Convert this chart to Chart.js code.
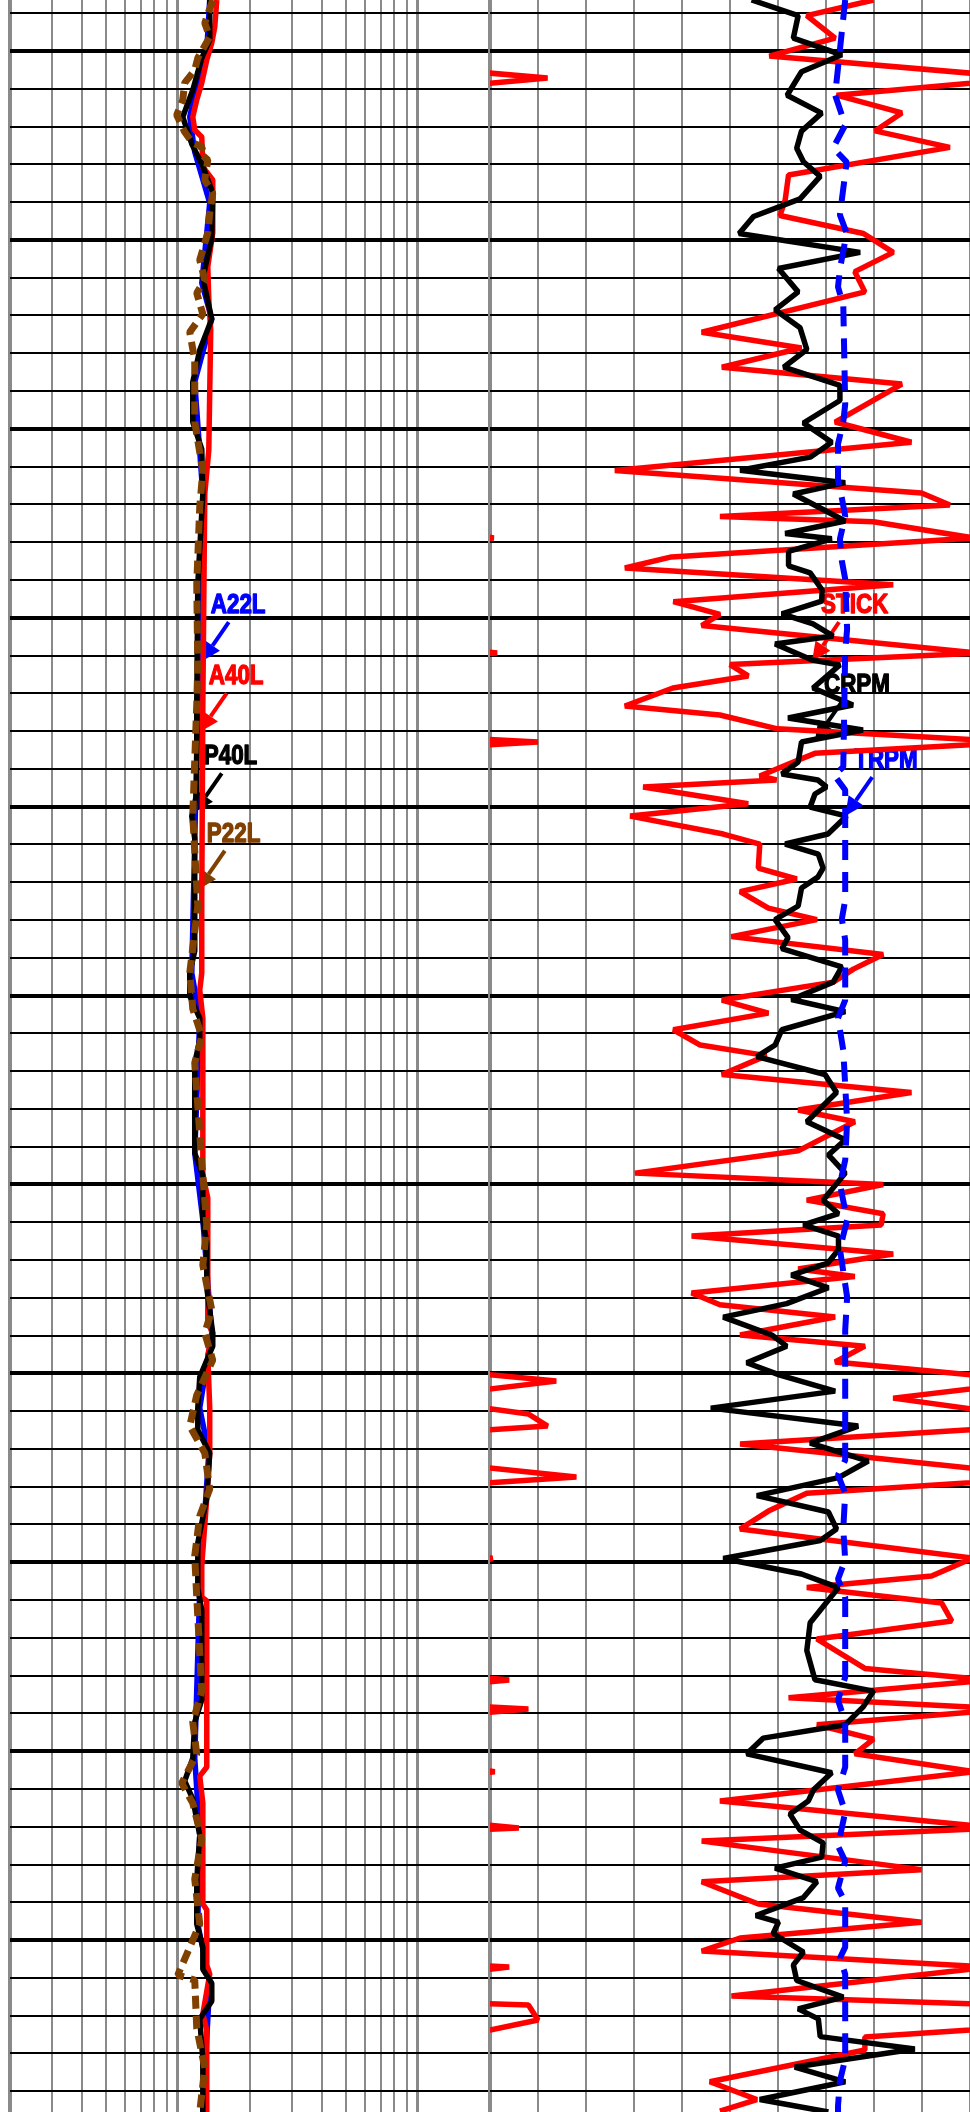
<!DOCTYPE html>
<html>
<head>
<meta charset="utf-8">
<script src="https://cdn.jsdelivr.net/npm/chart.js@4.4.1/dist/chart.umd.min.js"></script>
<style>
  html, body { margin: 0; padding: 0; background: #fff; overflow: hidden; }
  #wrap { position: relative; width: 970px; height: 2112px; }
  #resTrack { position: absolute; left: 0; top: 0; }
  #rpmTrack { position: absolute; left: 488px; top: 0; }
</style>
</head>
<body>
<div id="wrap">
  <canvas id="resTrack" width="494" height="2112"></canvas>
  <canvas id="rpmTrack" width="482" height="2112"></canvas>
</div>
<script>
// depth window (ft)
const depthTop = 4997.3;
const depthBottom = 5109.1;

// left track, resistivity (ohm.m) on log scale
const resTicks = [2, 3, 4, 5, 6, 7, 8, 9, 10, 20, 30, 40, 50, 60, 70, 80, 90, 100, 200];

// [depth, value]
const a22l = [
  [4997.30, 13.59], [4999.95, 13.21], [5001.54, 12.12], [5003.49, 11.22], [5005.35, 11.77],
  [5008.05, 13.59], [5012.28, 12.59], [5014.19, 13.86], [5017.52, 11.77], [5023.45, 12.72],
  [5032.35, 12.59], [5034.57, 12.12], [5048.81, 11.44], [5051.19, 12.35], [5058.34, 11.77],
  [5061.88, 12.72], [5067.87, 13.86], [5071.84, 12.35], [5074.22, 13.47], [5081.37, 12.35],
  [5090.37, 11.77], [5094.44, 12.35], [5099.15, 12.12], [5102.28, 13.59], [5109.10, 12.72]
];
const a40l = [
  [4997.30, 14.54], [4998.73, 14.26], [4999.58, 13.86], [5000.48, 13.21], [5001.69, 12.59],
  [5002.59, 12.00], [5003.49, 11.55], [5004.18, 11.77], [5004.55, 12.59], [5006.14, 12.72],
  [5006.83, 13.99], [5009.63, 13.99], [5011.43, 13.34], [5013.18, 13.47], [5014.77, 13.72],
  [5021.12, 13.47], [5023.45, 12.96], [5034.57, 12.72], [5044.94, 12.59], [5048.81, 12.59],
  [5049.71, 12.35], [5051.19, 12.72], [5059.50, 12.72], [5060.72, 13.34], [5067.34, 13.34],
  [5067.87, 13.99], [5069.03, 13.34], [5071.84, 13.59], [5074.22, 13.59], [5076.60, 13.21],
  [5080.15, 12.59], [5081.84, 12.59], [5082.05, 13.21], [5090.84, 13.21], [5091.32, 12.35],
  [5092.75, 12.72], [5098.09, 12.72], [5098.41, 13.21], [5101.32, 13.21], [5101.80, 13.59],
  [5103.92, 12.72], [5104.76, 13.21], [5109.10, 13.21]
];
const p40l = [
  [4997.30, 13.59], [4999.42, 13.59], [5000.37, 12.59], [5002.06, 11.55], [5003.49, 10.49],
  [5004.92, 11.44], [5006.09, 12.72], [5007.52, 13.99], [5009.90, 13.86], [5012.02, 12.72],
  [5014.19, 13.86], [5015.83, 12.35], [5017.52, 11.55], [5019.64, 11.55], [5021.07, 12.59],
  [5023.45, 12.72], [5028.22, 12.12], [5034.57, 12.00], [5039.33, 12.00], [5040.50, 11.44],
  [5041.71, 11.77], [5047.64, 11.77], [5048.81, 11.22], [5050.03, 11.22], [5051.19, 12.35],
  [5052.35, 12.35], [5053.57, 11.77], [5058.34, 11.77], [5059.50, 12.72], [5061.88, 12.72],
  [5063.10, 13.21], [5065.48, 13.21], [5067.87, 13.99], [5068.56, 13.99], [5070.20, 12.35],
  [5071.84, 12.12], [5073.00, 12.12], [5074.22, 13.59], [5076.60, 13.21], [5078.98, 12.12],
  [5081.37, 12.12], [5082.53, 12.59], [5087.29, 12.59], [5088.46, 11.77], [5090.37, 11.55],
  [5091.58, 10.69], [5092.53, 11.55], [5094.44, 12.35], [5096.82, 12.00], [5099.15, 12.00],
  [5100.37, 12.72], [5101.54, 12.72], [5102.28, 13.86], [5103.23, 13.86], [5104.18, 12.35],
  [5106.30, 12.72], [5109.10, 12.72]
];
const p22l = [
  [4997.30, 13.99], [4998.52, 12.96], [4999.26, 13.59], [5000.37, 12.12], [5001.01, 11.77],
  [5001.69, 10.69], [5002.59, 10.49], [5003.39, 9.90], [5004.29, 10.69], [5004.87, 11.55],
  [5005.08, 12.72], [5005.40, 12.35], [5005.77, 13.34], [5006.83, 12.96], [5007.52, 13.99],
  [5008.58, 13.59], [5009.63, 13.34], [5011.06, 12.35], [5012.12, 12.96], [5012.81, 12.00],
  [5013.92, 12.72], [5014.88, 11.22], [5016.36, 11.77], [5019.64, 11.77], [5022.23, 12.72],
  [5024.14, 12.35], [5028.22, 12.00], [5032.50, 12.12], [5034.57, 12.00], [5040.50, 11.55],
  [5045.26, 12.12], [5048.81, 11.22], [5050.71, 11.55], [5052.14, 12.59], [5053.57, 11.77],
  [5058.81, 12.59], [5062.15, 13.21], [5064.27, 12.72], [5066.65, 13.86], [5067.87, 12.96],
  [5069.30, 13.99], [5071.15, 12.00], [5072.79, 11.22], [5074.22, 12.96], [5076.12, 13.59],
  [5077.56, 12.35], [5079.67, 11.77], [5081.84, 12.00], [5086.82, 12.59], [5088.46, 11.55],
  [5090.15, 12.00], [5091.69, 10.39], [5092.75, 11.55], [5094.65, 12.59], [5096.77, 11.77],
  [5099.15, 12.35], [5101.85, 10.00], [5102.12, 11.77], [5104.66, 12.00], [5106.77, 12.96],
  [5109.10, 12.35]
];

// right track, 0..100 linear
const rpmTicks = [0, 10, 20, 30, 40, 50, 60, 70, 80, 90, 100];
const stick = [
  [4997.30, 79.9], [4998.13, 66.0], [4999.32, 71.9], [5000.27, 58.2], [5001.43, 112.0],
  [5002.34, 72.2], [5003.28, 85.8], [5004.23, 80.2], [5005.10, 95.8], [5006.56, 62.2],
  [5007.88, 61.5], [5008.71, 60.4], [5009.66, 77.8], [5010.66, 84.0], [5011.68, 76.0],
  [5012.75, 78.1], [5014.89, 44.1], [5015.72, 64.9], [5016.74, 48.3], [5017.63, 85.8],
  [5019.64, 71.9], [5020.71, 87.8], [5022.21, 26.0], [5023.40, 89.9], [5024.03, 95.8],
  [5024.64, 47.9], [5024.92, 79.9], [5025.78, 100.8], [5026.78, 37.8], [5027.37, 28.1],
  [5028.25, 84.0], [5029.15, 38.2], [5029.82, 47.9], [5030.41, 44.1], [5031.87, 101.5],
  [5032.48, 50.0], [5033.08, 53.8], [5033.72, 38.1], [5034.67, 28.1], [5035.15, 47.9],
  [5035.88, 59.9], [5036.58, 110.0], [5037.18, 67.7], [5037.64, 63.2], [5038.38, 56.2],
  [5038.59, 59.7], [5038.96, 31.9], [5039.85, 53.8], [5040.50, 29.2], [5041.45, 48.6],
  [5041.98, 56.2], [5043.25, 55.9], [5043.83, 63.9], [5044.50, 52.1], [5045.37, 58.0],
  [5045.98, 68.1], [5046.88, 50.3], [5047.83, 81.9], [5048.60, 75.7], [5049.29, 71.5],
  [5050.24, 48.3], [5050.93, 58.0], [5051.81, 38.2], [5052.62, 43.8], [5053.18, 57.6],
  [5054.18, 48.3], [5055.13, 87.8], [5056.06, 64.2], [5056.68, 76.0], [5058.22, 64.2],
  [5059.40, 30.2], [5060.00, 81.9], [5060.83, 66.0], [5061.55, 81.9], [5062.14, 81.5],
  [5062.73, 42.0], [5063.68, 84.0], [5064.48, 64.2], [5064.87, 76.0], [5065.75, 42.0],
  [5066.37, 47.9], [5067.02, 71.9], [5067.97, 52.1], [5068.56, 78.1], [5069.40, 71.9],
  [5070.41, 113.8], [5071.31, 84.0], [5072.15, 108.0], [5072.79, 112.0], [5073.74, 52.1],
  [5075.49, 118.0], [5076.34, 66.0], [5077.29, 58.0], [5078.24, 52.1], [5079.78, 100.5],
  [5080.73, 92.0], [5081.34, 66.0], [5082.16, 94.1], [5083.11, 96.2], [5084.06, 68.1],
  [5085.62, 78.1], [5086.23, 104.0], [5087.17, 62.2], [5087.77, 108.0], [5088.60, 68.1],
  [5089.36, 79.9], [5090.14, 76.0], [5091.09, 101.0], [5092.64, 47.9], [5094.07, 106.0],
  [5094.76, 44.1], [5096.27, 89.9], [5096.91, 44.1], [5098.09, 55.9], [5099.05, 89.9],
  [5099.89, 52.1], [5100.58, 44.1], [5101.43, 104.0], [5102.96, 50.3], [5103.44, 108.0],
  [5104.23, 110.0], [5104.76, 100.0], [5105.13, 78.1], [5105.82, 78.1], [5107.50, 45.8],
  [5108.44, 55.6], [5109.05, 47.9]
];
const crpm = [
  [4997.30, 54.5], [4998.13, 64.2], [4999.32, 63.2], [5000.20, 73.3], [5001.10, 64.9],
  [5002.34, 61.9], [5003.29, 69.1], [5004.24, 64.9], [5005.15, 63.9], [5005.86, 65.3],
  [5006.64, 68.8], [5007.83, 64.6], [5008.76, 54.9], [5009.66, 51.9], [5010.66, 77.1],
  [5011.51, 60.1], [5012.75, 64.2], [5013.70, 59.4], [5014.65, 64.6], [5015.80, 66.0],
  [5016.74, 61.2], [5017.70, 72.9], [5018.50, 72.9], [5019.69, 65.3], [5020.71, 71.2],
  [5021.50, 66.7], [5022.19, 52.1], [5022.85, 74.0], [5023.45, 63.2], [5024.88, 74.0],
  [5025.54, 61.5], [5025.82, 71.2], [5026.49, 62.2], [5027.25, 62.2], [5027.63, 66.7],
  [5028.53, 69.2], [5029.12, 69.1], [5029.80, 60.8], [5030.33, 67.3], [5030.97, 71.5],
  [5031.39, 59.4], [5032.24, 67.1], [5032.50, 72.9], [5033.72, 67.3], [5034.62, 75.6],
  [5035.31, 62.1], [5035.94, 77.7], [5036.58, 64.9], [5037.64, 64.2], [5038.27, 60.8],
  [5038.59, 68.3], [5038.96, 70.1], [5039.33, 67.7], [5040.02, 66.7], [5040.50, 74.3],
  [5041.45, 70.4], [5041.98, 61.5], [5042.51, 68.4], [5043.25, 69.4], [5043.73, 68.3],
  [5044.31, 64.9], [5045.26, 64.2], [5045.98, 59.4], [5046.93, 62.1], [5047.52, 60.8],
  [5048.48, 73.3], [5049.29, 71.5], [5050.21, 62.8], [5050.85, 74.0], [5051.81, 60.8],
  [5052.62, 59.4], [5053.23, 55.6], [5054.18, 69.8], [5055.13, 72.2], [5056.68, 66.0],
  [5057.63, 74.0], [5058.44, 70.5], [5059.40, 74.0], [5060.83, 69.4], [5061.55, 72.6],
  [5062.14, 65.3], [5062.73, 72.6], [5063.45, 72.6], [5064.16, 70.4], [5064.80, 62.8],
  [5065.47, 70.5], [5066.31, 61.8], [5067.02, 48.6], [5067.97, 58.7], [5068.56, 61.8],
  [5069.44, 53.5], [5070.09, 60.4], [5070.94, 71.9], [5071.84, 46.0], [5072.79, 76.7],
  [5073.69, 66.7], [5074.64, 78.8], [5075.52, 72.6], [5076.47, 55.6], [5077.34, 70.5],
  [5078.24, 72.2], [5078.85, 68.8], [5079.80, 48.6], [5080.62, 64.9], [5081.34, 72.6],
  [5083.20, 66.7], [5084.67, 66.0], [5086.22, 67.7], [5086.82, 79.9], [5087.64, 77.8],
  [5088.60, 74.0], [5089.31, 56.9], [5090.14, 53.5], [5091.14, 71.2], [5092.04, 67.4],
  [5092.64, 66.3], [5093.33, 62.5], [5094.18, 64.6], [5094.85, 69.4], [5095.61, 69.1],
  [5096.19, 59.4], [5096.91, 68.1], [5097.75, 65.3], [5098.70, 55.4], [5099.05, 60.1],
  [5099.65, 59.0], [5100.63, 65.3], [5101.31, 63.2], [5102.14, 63.9], [5103.02, 73.6],
  [5103.64, 64.2], [5104.17, 68.4], [5105.11, 68.8], [5105.77, 88.5], [5106.72, 63.5],
  [5107.50, 74.0], [5108.44, 56.2], [5109.10, 70.5]
];
const trpm = [
  [4997.30, 74.0], [5002.33, 71.9], [5003.92, 74.0], [5005.13, 71.5], [5005.88, 74.3],
  [5008.68, 72.9], [5009.63, 74.3], [5011.54, 72.9], [5012.49, 72.5], [5013.45, 73.6],
  [5018.69, 74.0], [5019.64, 73.6], [5020.80, 72.5], [5022.71, 72.5], [5023.66, 73.3],
  [5024.62, 74.0], [5025.83, 72.9], [5026.99, 73.3], [5027.95, 74.0], [5030.60, 74.4],
  [5031.76, 74.0], [5037.90, 73.6], [5038.33, 71.7], [5039.12, 74.0], [5044.94, 74.0],
  [5045.95, 73.3], [5047.06, 74.0], [5050.24, 74.0], [5051.19, 72.5], [5052.89, 73.6],
  [5056.64, 74.4], [5058.71, 74.0], [5059.98, 72.9], [5061.88, 74.4], [5063.42, 72.9],
  [5065.96, 74.4], [5067.71, 74.0], [5074.59, 74.0], [5075.38, 72.5], [5076.34, 74.0],
  [5078.24, 73.6], [5079.88, 74.0], [5080.89, 72.5], [5081.84, 74.0], [5086.08, 74.0],
  [5087.29, 72.5], [5088.46, 74.0], [5090.84, 74.0], [5092.06, 72.5], [5093.22, 74.0],
  [5095.02, 72.5], [5095.82, 74.0], [5097.25, 72.5], [5097.99, 74.0], [5100.37, 74.0],
  [5100.95, 72.9], [5101.80, 74.0], [5106.30, 74.0], [5107.46, 72.9], [5108.79, 72.5],
  [5109.10, 72.5]
];

// curve labels: arrow tip at [depth, value]
const resLabels = [
  { text: 'A22L', color: '#0000ff', depth: 5032.3, value: 12.59 },
  { text: 'A40L', color: '#ff0000', depth: 5036.05, value: 12.35 },
  { text: 'P40L', color: '#000000', depth: 5040.3, value: 11.77 },
  { text: 'P22L', color: '#804000', depth: 5044.4, value: 12.12 }
];
const rpmLabels = [
  { text: 'STICK', color: '#ff0000', depth: 5032.3, value: 67.1 },
  { text: 'CRPM', color: '#000000', depth: 5036.5, value: 67.7 },
  { text: 'TRPM', color: '#0000ff', depth: 5040.5, value: 74.0 }
];

const GRID_GRAY = '#8a8a8a';
const toPts = arr => arr.map(d => ({ x: d[1], y: d[0] }));

const curveLabels = {
  id: 'curveLabels',
  beforeDatasetsDraw(chart, args, opts) {
    const ctx = chart.ctx;
    const xs = chart.scales.x, ys = chart.scales.y;
    ctx.save();
    ctx.font = 'bold 28px "Liberation Sans", Arial, sans-serif';
    ctx.textBaseline = 'alphabetic';
    opts.items.forEach(l => {
      const tx = xs.getPixelForValue(l.value);
      const ty = ys.getPixelForValue(l.depth);
      ctx.fillStyle = l.color;
      ctx.strokeStyle = l.color;
      // condensed, heavy lettering
      ctx.save();
      ctx.translate(tx + 9, ty - 48);
      ctx.scale(0.8, 1);
      ctx.lineWidth = 1.4;
      ctx.lineJoin = 'round';
      ctx.fillText(l.text, 0, 0);
      ctx.strokeText(l.text, 0, 0);
      ctx.restore();
      // arrow
      const sx = tx + 27, sy = ty - 39;
      const dx = tx - sx, dy = ty - sy;
      const len = Math.hypot(dx, dy);
      const ux = dx / len, uy = dy / len;
      const head = 19, half = 9;
      const bx = tx - ux * head, by = ty - uy * head;
      ctx.lineWidth = 4;
      ctx.beginPath();
      ctx.moveTo(sx, sy);
      ctx.lineTo(bx, by);
      ctx.stroke();
      ctx.beginPath();
      ctx.moveTo(tx, ty);
      ctx.lineTo(bx - uy * half, by + ux * half);
      ctx.lineTo(bx + uy * half, by - ux * half);
      ctx.closePath();
      ctx.fill();
    });
    ctx.restore();
  }
};

function depthAxis() {
  return {
    type: 'linear',
    position: 'left',
    reverse: true,
    min: depthTop,
    max: depthBottom,
    ticks: { display: false, stepSize: 2, includeBounds: false },
    grid: {
      color: '#000',
      lineWidth: c => (Math.abs(c.tick.value % 10) < 0.01 ? 4 : 2),
      drawTicks: false,
      z: -1
    },
    border: { display: false }
  };
}

function line(label, data, color, width, dash) {
  return {
    label: label,
    data: toPts(data),
    showLine: true,
    borderColor: color,
    backgroundColor: color,
    borderWidth: width,
    borderDash: dash || [],
    borderJoinStyle: 'bevel',
    pointRadius: 0,
    tension: 0,
    fill: false
  };
}

const common = {
  responsive: false,
  devicePixelRatio: 1,
  animation: false,
  events: [],
  plugins: { legend: { display: false }, tooltip: { enabled: false } }
};

new Chart(document.getElementById('resTrack'), {
  type: 'scatter',
  data: {
    datasets: [
      line('P22L', p22l, '#804000', 7, [13, 7]),
      line('P40L', p40l, '#000000', 5.5),
      line('A40L', a40l, '#ff0000', 5.5),
      line('A22L', a22l, '#0000ff', 5.5)
    ]
  },
  options: Object.assign({}, common, {
    layout: { padding: { left: 10, right: 4, top: 0, bottom: 0 } },
    scales: {
      x: {
        type: 'logarithmic',
        min: 2,
        max: 200,
        afterBuildTicks: s => { s.ticks = resTicks.map(v => ({ value: v })); },
        ticks: { display: false },
        grid: {
          color: GRID_GRAY,
          lineWidth: c => {
            const v = c.tick.value;
            if (v === 2 || v === 200) return 4;
            if (v === 10 || v === 100) return 3;
            return 2;
          },
          drawTicks: false,
          z: -2
        },
        border: { display: false }
      },
      y: depthAxis()
    },
    plugins: Object.assign({}, common.plugins, { curveLabels: { items: resLabels } })
  }),
  plugins: [curveLabels]
});

const stickBackup = line('STICK backup', stick.map(d => [d[0], d[1] - 100]), '#ff0000', 5.5);
stickBackup.clip = 0;

new Chart(document.getElementById('rpmTrack'), {
  type: 'scatter',
  data: {
    datasets: [
      line('TRPM', trpm, '#0000ff', 6, [20, 12]),
      line('CRPM', crpm, '#000000', 5.5),
      line('STICK', stick, '#ff0000', 5.5),
      stickBackup
    ]
  },
  options: Object.assign({}, common, {
    layout: { padding: { left: 2, right: 0, top: 0, bottom: 0 } },
    scales: {
      x: {
        type: 'linear',
        min: 0,
        max: 100,
        afterBuildTicks: s => { s.ticks = rpmTicks.map(v => ({ value: v })); },
        ticks: { display: false },
        grid: {
          color: GRID_GRAY,
          lineWidth: c => (c.tick.value === 0 ? 4 : 2),
          drawTicks: false,
          z: -2
        },
        border: { display: false }
      },
      y: depthAxis()
    },
    plugins: Object.assign({}, common.plugins, { curveLabels: { items: rpmLabels } })
  }),
  plugins: [curveLabels]
});
</script>
</body>
</html>
